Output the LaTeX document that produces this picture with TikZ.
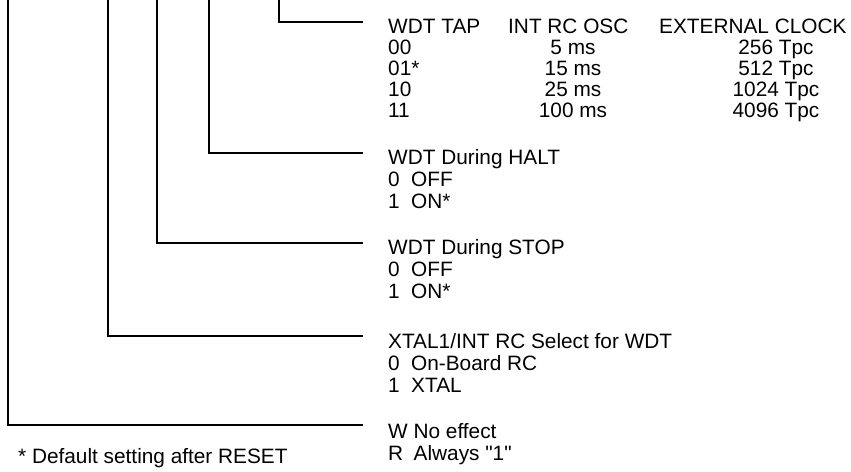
\documentclass[tikz,border=0pt]{standalone}
\usepackage{fontspec}
\setmainfont{Liberation Sans}[Ligatures=TeXOff]
\newcommand{\reffont}{\fontsize{20.8}{22}\selectfont}
\begin{document}
\begin{tikzpicture}[x=1pt,y=-1pt,
  txt/.style={font=\reffont, inner sep=0pt},
  lbl/.style={txt, anchor=base west},
  ctr/.style={txt, anchor=base},
  wire/.style={line width=1.9pt, line join=miter, line cap=rect}]
\useasboundingbox (0,0) rectangle (851,471);
\newcommand{\lead}[1]{\makebox[23pt][l]{#1}}
% ---- WDT TAP table
\node[lbl] (tapH) at (388,33) {WDT TAP};
\node[lbl] (tapA) at (388,54) {00};
\node[lbl] (tapB) at (388,75) {01*};
\node[lbl] (tapC) at (388,96) {10};
\node[lbl] (tapD) at (388,117) {11};
\node[lbl] (rcH) at (508,33) {INT RC OSC};
\node[ctr] (rcA) at (573,54) {5 ms};
\node[ctr] (rcB) at (573,75) {15 ms};
\node[ctr] (rcC) at (573,96) {25 ms};
\node[ctr] (rcD) at (573,117) {100 ms};
\node[lbl] (exH) at (659,33) {EXTERNAL CLOCK};
\node[ctr] (exA) at (776,54) {256 Tpc};
\node[ctr] (exB) at (776,75) {512 Tpc};
\node[ctr] (exC) at (776,96) {1024 Tpc};
\node[ctr] (exD) at (776,117) {4096 Tpc};
% ---- HALT
\node[lbl] (haH) at (388,164) {WDT During HALT};
\node[lbl] (haA) at (388,186) {\lead{0}OFF};
\node[lbl] (haB) at (388,208) {\lead{1}ON*};
% ---- STOP
\node[lbl] (stH) at (388,254) {WDT During STOP};
\node[lbl] (stA) at (388,276) {\lead{0}OFF};
\node[lbl] (stB) at (388,298) {\lead{1}ON*};
% ---- XTAL
\node[lbl] (xtH) at (388,348) {XTAL1/INT RC Select for WDT};
\node[lbl] (xtA) at (388,370) {\lead{0}On-Board RC};
\node[lbl] (xtB) at (388,392) {\lead{1}XTAL};
% ---- W/R
\node[lbl] (wrA) at (388,438) {W No effect};
\node[lbl] (wrB) at (388,460) {\makebox[25.5pt][l]{R}Always "1"};
% ---- footnote
\node[lbl] (foot) at (18,463) {* Default setting after RESET};
% ---- connectors
\coordinate (t1) at (279,-2); \coordinate (e1) at (362,22);
\coordinate (t2) at (209,-2); \coordinate (e2) at (362,153);
\coordinate (t3) at (157,-2); \coordinate (e3) at (362,243);
\coordinate (t4) at (108,-2); \coordinate (e4) at (362,336);
\coordinate (t5) at (8,-2);   \coordinate (e5) at (362,425);
\draw[wire] (t1) |- (e1);
\draw[wire] (t2) |- (e2);
\draw[wire] (t3) |- (e3);
\draw[wire] (t4) |- (e4);
\draw[wire] (t5) |- (e5);
\end{tikzpicture}
\end{document}
